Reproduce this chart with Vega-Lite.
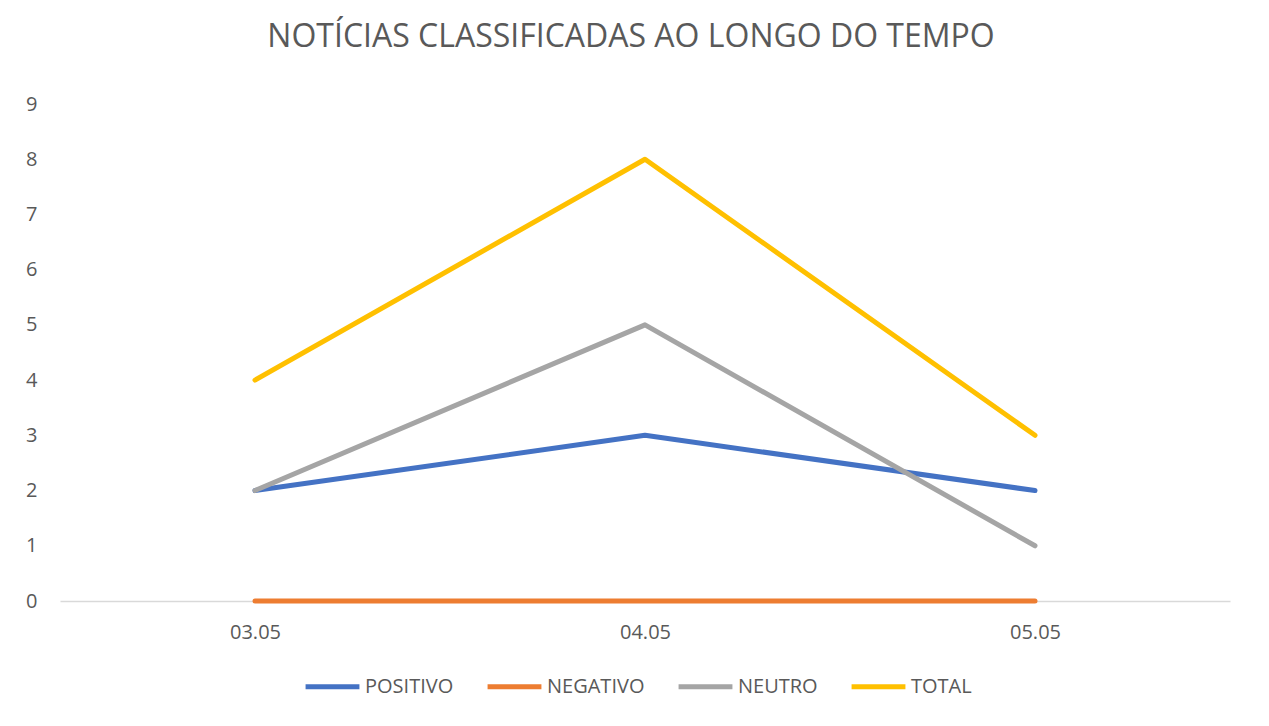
{
  "$schema": "https://vega.github.io/schema/vega-lite/v6.json",
  "autosize": "none",
  "width": 1170,
  "height": 497,
  "padding": {"left": 60, "top": 104, "right": 39, "bottom": 125},
  "background": "white",
  "title": {
    "text": "NOTÍCIAS CLASSIFICADAS AO LONGO DO TEMPO",
    "font": "Open Sans",
    "fontSize": 32,
    "fontWeight": "normal",
    "color": "#595959",
    "anchor": "middle",
    "baseline": "alphabetic",
    "offset": 15,
    "dx": -14
  },
  "data": {
    "values": [
      {"data": "03.05", "serie": "POSITIVO", "valor": 2},
      {"data": "04.05", "serie": "POSITIVO", "valor": 3},
      {"data": "05.05", "serie": "POSITIVO", "valor": 2},
      {"data": "03.05", "serie": "NEGATIVO", "valor": 0},
      {"data": "04.05", "serie": "NEGATIVO", "valor": 0},
      {"data": "05.05", "serie": "NEGATIVO", "valor": 0},
      {"data": "03.05", "serie": "NEUTRO", "valor": 2},
      {"data": "04.05", "serie": "NEUTRO", "valor": 5},
      {"data": "05.05", "serie": "NEUTRO", "valor": 1},
      {"data": "03.05", "serie": "TOTAL", "valor": 4},
      {"data": "04.05", "serie": "TOTAL", "valor": 8},
      {"data": "05.05", "serie": "TOTAL", "valor": 3}
    ]
  },
  "mark": {"type": "line", "strokeWidth": 5, "strokeCap": "round", "strokeJoin": "round"},
  "encoding": {
    "x": {
      "field": "data",
      "type": "ordinal",
      "scale": {"type": "point", "padding": 0.5},
      "axis": {
        "title": null,
        "labelAngle": 0,
        "labelFont": "Open Sans",
        "labelFontSize": 20,
        "labelColor": "#595959",
        "labelPadding": 21,
        "ticks": false,
        "domainColor": "#d9d9d9",
        "domainWidth": 1.5,
        "grid": false
      }
    },
    "y": {
      "field": "valor",
      "type": "quantitative",
      "scale": {"domain": [0, 9], "nice": false},
      "axis": {
        "title": null,
        "values": [0, 1, 2, 3, 4, 5, 6, 7, 8, 9],
        "labelFont": "Open Sans",
        "labelFontSize": 20,
        "labelColor": "#595959",
        "labelPadding": 23,
        "ticks": false,
        "domain": false,
        "grid": false
      }
    },
    "color": {
      "field": "serie",
      "type": "nominal",
      "scale": {
        "domain": ["POSITIVO", "NEGATIVO", "NEUTRO", "TOTAL"],
        "range": ["#4472C4", "#ED7D31", "#A5A5A5", "#FFC000"]
      },
      "legend": {
        "title": null,
        "orient": "none",
        "legendX": 243,
        "legendY": 553,
        "direction": "horizontal",
        "symbolType": "stroke",
        "symbolSize": 2900,
        "symbolStrokeWidth": 5,
        "labelFont": "Open Sans",
        "labelFontSize": 20,
        "labelColor": "#595959",
        "labelOffset": 3,
        "columnPadding": 23
      }
    },
    "order": {"field": "serie"}
  },
  "config": {"view": {"stroke": null}}
}
